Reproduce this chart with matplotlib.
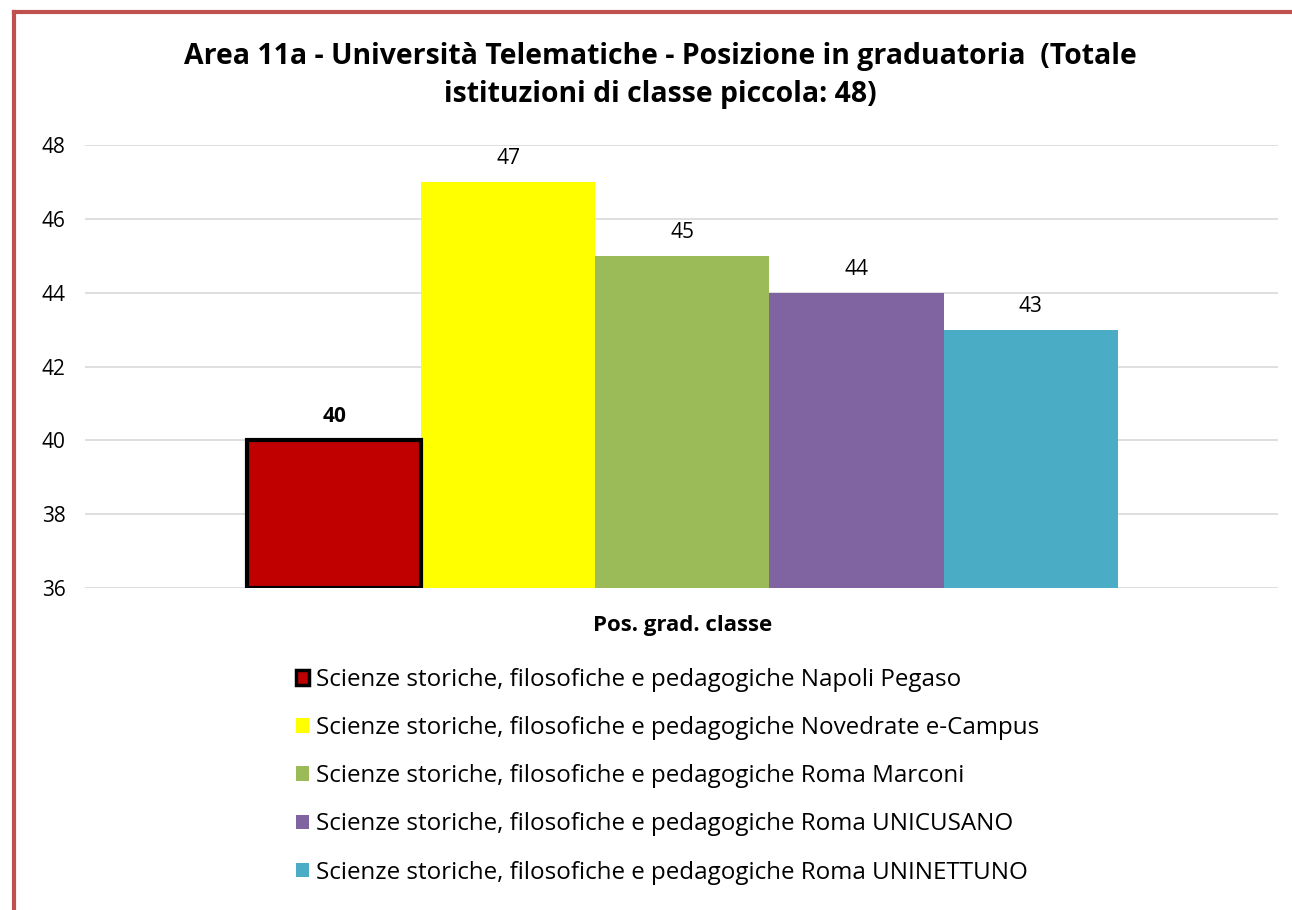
import matplotlib
matplotlib.use("Agg")
import matplotlib.pyplot as plt
from matplotlib.patches import Patch
from matplotlib.lines import Line2D

plt.rcParams['font.family'] = ['Open Sans', 'DejaVu Sans']

# data
labels = [
    "Scienze storiche, filosofiche e pedagogiche Napoli Pegaso",
    "Scienze storiche, filosofiche e pedagogiche Novedrate e-Campus",
    "Scienze storiche, filosofiche e pedagogiche Roma Marconi",
    "Scienze storiche, filosofiche e pedagogiche Roma UNICUSANO",
    "Scienze storiche, filosofiche e pedagogiche Roma UNINETTUNO",
]
values = [40, 47, 45, 44, 43]
colors = ["#C00000", "#FFFF00", "#9BBB59", "#8064A2", "#4BACC6"]
yticks = [36, 38, 40, 42, 44, 46, 48]
title = ("Area 11a - Università Telematiche - Posizione in graduatoria  (Totale\n"
         "istituzioni di classe piccola: 48)")
xlabel = "Pos. grad. classe"

fig = plt.figure(figsize=(12.92, 9.10), dpi=100)
ax = fig.add_axes([0.0658, 0.3538, 0.9234, 0.4868])

base = yticks[0]
for i, (v, c) in enumerate(zip(values, colors)):
    if i == 0:
        ax.bar(i, v - base, bottom=base, width=1.0, color=c,
               edgecolor="black", linewidth=3, zorder=3)
        ax.text(i, v + 0.35, str(v), ha="center", va="bottom",
                fontsize=15, fontweight="bold", zorder=4)
    else:
        ax.bar(i, v - base, bottom=base, width=1.0, color=c,
               linewidth=0, zorder=2)
        ax.text(i, v + 0.35, str(v), ha="center", va="bottom",
                fontsize=15, zorder=4)

ax.set_xlim(-1.43, 5.42)
ax.set_ylim(yticks[0], yticks[-1])
ax.set_yticks(yticks)
ax.set_xticks([])
ax.tick_params(axis="y", length=0, pad=14, labelsize=15)
ax.yaxis.grid(True, color="#D9D9D9", linewidth=1.2, zorder=0)
ax.set_axisbelow(True)
for s in ax.spines.values():
    s.set_visible(False)

fig.text(0.511, 0.917, title, ha="center", va="center", fontsize=20.4,
         fontweight="bold", linespacing=1.45)
fig.text(0.528, 0.313, xlabel, ha="center", va="center", fontsize=16,
         fontweight="bold")

handles = []
for i, c in enumerate(colors):
    if i == 0:
        handles.append(Patch(facecolor=c, edgecolor="black", linewidth=2.5))
    else:
        handles.append(Patch(facecolor=c, edgecolor="none"))
leg = fig.legend(handles, labels, loc="upper left",
                 bbox_to_anchor=(0.229, 0.266), frameon=False, fontsize=17.4,
                 handlelength=0.55, handleheight=0.55, handletextpad=0.3,
                 labelspacing=1.0, borderpad=0, borderaxespad=0)

# frame border (top and left)
fig.add_artist(Line2D([0.0108, 1.0], [0.9868, 0.9868], color="#C0504D",
                      linewidth=3, transform=fig.transFigure))
fig.add_artist(Line2D([0.0108, 0.0108], [0.0, 0.9868], color="#C0504D",
                      linewidth=3, transform=fig.transFigure))

fig.savefig("out.png", dpi=100)
